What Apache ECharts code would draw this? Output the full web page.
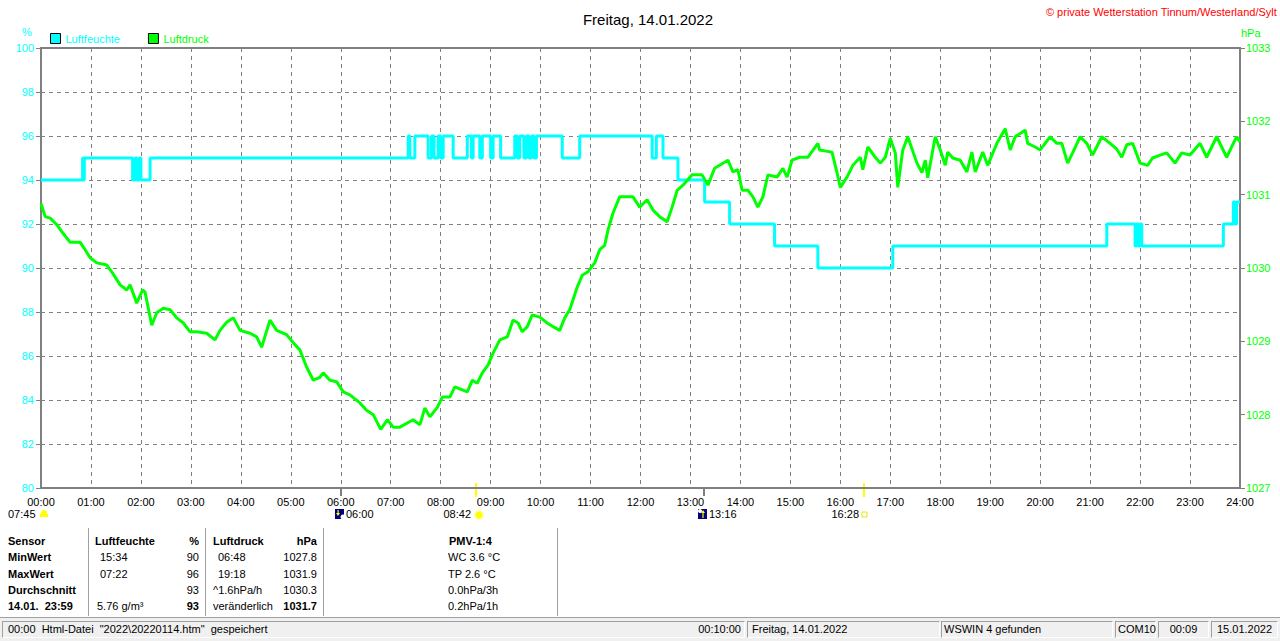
<!DOCTYPE html>
<html>
<head>
<meta charset="utf-8">
<script src="https://cdn.jsdelivr.net/npm/echarts@6/dist/echarts.min.js"></script>
<style>
  html, body { margin:0; padding:0; background:#fff; }
  body { width:1280px; height:641px; position:relative; overflow:hidden; font-family:"Liberation Sans", Arial, sans-serif; font-size:11px; }
  #c { position:absolute; left:0; top:0; width:1280px; height:641px; }
  .t { position:absolute; white-space:nowrap; font-size:11px; line-height:13px; color:#000; }
  .b { font-weight:bold; }
  .r { text-align:right; }
  .vl { position:absolute; top:528px; width:1px; height:88px; background:#a0a0a0; border-right:1px solid #fff; }
  #sb { position:absolute; left:0; top:617px; width:1280px; height:24px; background:#f0f0f0; border-top:1px solid #a0a0a0; }
  .p { position:absolute; top:3px; height:17px; border-top:1px solid #a0a0a0; border-left:1px solid #a0a0a0; border-bottom:1px solid #fff; border-right:1px solid #fff; box-sizing:border-box; font-size:11px; line-height:15px; white-space:nowrap; color:#000; }
</style>
</head>
<body>
<div id="c"></div>

<div class="t b" style="left:8px;top:535px">Sensor</div>
<div class="t b" style="left:8px;top:551px">MinWert</div>
<div class="t b" style="left:8px;top:568px">MaxWert</div>
<div class="t b" style="left:8px;top:584px">Durchschnitt</div>
<div class="t b" style="left:8px;top:600px">14.01.&nbsp;&nbsp;23:59</div>
<div class="vl" style="left:88px"></div>

<div class="t b" style="left:95px;top:535px">Luftfeuchte</div>
<div class="t b r" style="left:160px;width:39px;top:535px">%</div>
<div class="t" style="left:100px;top:551px">15:34</div>
<div class="t r" style="left:160px;width:39px;top:551px">90</div>
<div class="t" style="left:100px;top:568px">07:22</div>
<div class="t r" style="left:160px;width:39px;top:568px">96</div>
<div class="t r" style="left:160px;width:39px;top:584px">93</div>
<div class="t" style="left:97px;top:600px">5.76 g/m³</div>
<div class="t b r" style="left:160px;width:39px;top:600px">93</div>
<div class="vl" style="left:205px"></div>

<div class="t b" style="left:213px;top:535px">Luftdruck</div>
<div class="t b r" style="left:262px;width:55px;top:535px">hPa</div>
<div class="t" style="left:218px;top:551px">06:48</div>
<div class="t r" style="left:262px;width:55px;top:551px">1027.8</div>
<div class="t" style="left:218px;top:568px">19:18</div>
<div class="t r" style="left:262px;width:55px;top:568px">1031.9</div>
<div class="t" style="left:213px;top:584px">^1.6hPa/h</div>
<div class="t r" style="left:262px;width:55px;top:584px">1030.3</div>
<div class="t" style="left:213px;top:600px">veränderlich</div>
<div class="t b r" style="left:262px;width:55px;top:600px">1031.7</div>
<div class="vl" style="left:323px"></div>

<div class="t b" style="left:449px;top:535px">PMV-1:4</div>
<div class="t" style="left:448px;top:551px">WC 3.6 °C</div>
<div class="t" style="left:448px;top:568px">TP 2.6 °C</div>
<div class="t" style="left:448px;top:584px">0.0hPa/3h</div>
<div class="t" style="left:448px;top:600px">0.2hPa/1h</div>
<div class="vl" style="left:557px"></div>

<div id="sb">
  <div class="p" style="left:2px;width:743px;padding-left:5px">00:00&nbsp;&nbsp;Html-Datei&nbsp;&nbsp;"2022\20220114.htm"&nbsp;&nbsp;gespeichert<span style="position:absolute;right:3px;top:0">00:10:00</span></div>
  <div class="p" style="left:747px;width:193px;padding-left:4px">Freitag, 14.01.2022</div>
  <div class="p" style="left:941px;width:172px;padding-left:2px">WSWIN 4 gefunden</div>
  <div class="p" style="left:1115px;width:41px;padding-left:2px">COM10</div>
  <div class="p" style="left:1158px;width:51px;text-align:center">00:09</div>
  <div class="p" style="left:1211px;width:67px;text-align:center">15.01.2022</div>
</div>

<script>
// ---- data (time in minutes since 00:00) ----
const humTimes = [0,50,51,52,110,113,115,118,120,131,441,443,449,465,469,472,477,480,483,495,512,517,519,527,530,540,543,552,569,572,575,580,583,586,589,592,595,626,647,734,739,747,765,797,827,881,933,1023,1280,1314,1316,1318,1320,1322,1420,1432,1434,1436,1440];
const humValues = [94,95,94,95,94,95,94,95,94,95,96,95,96,95,96,95,96,95,96,95,96,95,96,95,96,95,96,95,96,95,96,95,96,95,96,95,96,95,96,95,96,95,94,93,92,91,90,91,92,91,92,91,92,91,92,93,92,93,93];

const presTimes = [0,5,11,19,26,35,47,53,59,67,79,86,95,103,107,115,122,125,133,139,147,155,163,171,179,187,199,209,215,223,231,239,251,259,265,275,283,295,303,311,319,327,335,339,347,355,363,371,383,391,399,408,416,423,431,447,455,461,467,476,482,491,497,512,518,524,530,537,543,551,560,567,573,578,584,590,599,608,615,623,629,635,644,650,657,665,671,677,681,687,695,711,719,728,735,743,752,758,764,771,782,794,801,809,825,831,837,842,849,855,861,867,873,884,891,896,902,911,921,933,935,950,956,960,968,975,984,987,993,1002,1008,1014,1020,1026,1029,1035,1041,1052,1058,1062,1065,1074,1080,1086,1089,1095,1104,1112,1118,1122,1131,1137,1148,1158,1164,1170,1182,1185,1194,1200,1212,1220,1226,1233,1239,1248,1256,1263,1274,1284,1292,1298,1304,1311,1320,1329,1335,1344,1352,1362,1370,1380,1392,1400,1412,1418,1424,1432,1436,1440];
const presValues = [1030.88,1030.70,1030.68,1030.59,1030.48,1030.35,1030.35,1030.25,1030.14,1030.07,1030.04,1029.93,1029.77,1029.70,1029.77,1029.52,1029.70,1029.67,1029.22,1029.39,1029.45,1029.43,1029.32,1029.25,1029.13,1029.13,1029.11,1029.02,1029.15,1029.26,1029.32,1029.15,1029.11,1029.06,1028.92,1029.29,1029.15,1029.09,1028.98,1028.88,1028.65,1028.47,1028.51,1028.57,1028.47,1028.45,1028.31,1028.27,1028.16,1028.06,1028.00,1027.80,1027.93,1027.83,1027.83,1027.93,1027.86,1028.09,1027.97,1028.10,1028.24,1028.24,1028.38,1028.31,1028.47,1028.43,1028.57,1028.68,1028.84,1029.02,1029.06,1029.29,1029.25,1029.13,1029.20,1029.36,1029.33,1029.25,1029.20,1029.15,1029.32,1029.43,1029.74,1029.90,1029.95,1030.07,1030.25,1030.31,1030.52,1030.75,1030.97,1030.97,1030.83,1030.93,1030.79,1030.70,1030.63,1030.83,1031.06,1031.13,1031.27,1031.27,1031.13,1031.36,1031.47,1031.31,1031.34,1031.06,1031.06,1030.97,1030.83,1030.97,1031.27,1031.24,1031.36,1031.24,1031.47,1031.51,1031.51,1031.70,1031.61,1031.58,1031.30,1031.10,1031.24,1031.40,1031.51,1031.34,1031.65,1031.51,1031.43,1031.51,1031.77,1031.57,1031.10,1031.61,1031.79,1031.43,1031.30,1031.47,1031.23,1031.79,1031.61,1031.40,1031.58,1031.50,1031.47,1031.31,1031.58,1031.31,1031.58,1031.40,1031.70,1031.90,1031.61,1031.79,1031.88,1031.70,1031.65,1031.61,1031.79,1031.70,1031.70,1031.43,1031.57,1031.79,1031.70,1031.54,1031.79,1031.70,1031.62,1031.51,1031.68,1031.70,1031.43,1031.40,1031.50,1031.54,1031.57,1031.43,1031.57,1031.54,1031.70,1031.51,1031.79,1031.65,1031.51,1031.70,1031.79,1031.72];

const sunEvents = [ // sunrise / sunset
  {time:'08:42', kind:'sunrise'},
  {time:'16:28', kind:'sunset'}
];
const moonEvents = [
  {time:'06:00', kind:'moonset'},
  {time:'13:16', kind:'moonrise'}
];

const CYAN = '#00ffff', GREEN = '#00ff00', GRAY = '#808080';
const FONT = '"Liberation Sans", Arial, sans-serif';

function hm(m){ const h=Math.floor(m/60), mi=Math.round(m%60); return (h<10?'0':'')+h+':'+(mi<10?'0':'')+mi; }
function toMin(s){ const p=s.split(':'); return (+p[0])*60 + (+p[1]); }

const humData = humTimes.map((t,i)=>[t, humValues[i]]);
const presData = presTimes.map((t,i)=>[t, presValues[i]]);

const chart = echarts.init(document.getElementById('c'), null, {renderer:'svg'});

const option = {
  backgroundColor:'#fff',
  animation:false,
  textStyle:{fontFamily:FONT},
  title:{
    text:'Freitag, 14.01.2022', left:643, top:7, textAlign:'center',
    textStyle:{fontSize:15, fontWeight:'normal', color:'#000', fontFamily:FONT}
  },
  legend:{
    left:50, top:33, padding:0, itemWidth:10, itemHeight:10, itemGap:28, icon:'rect',
    itemStyle:{borderColor:'#000', borderWidth:1},
    textStyle:{fontSize:11, fontFamily:FONT},
    data:[
      {name:'Luftfeuchte', textStyle:{color:CYAN}},
      {name:'Luftdruck', textStyle:{color:GREEN}}
    ]
  },
  grid:{left:41, right:40, top:48, bottom:153, show:true, borderColor:GRAY, borderWidth:2},
  xAxis:{
    type:'value', min:0, max:1440, interval:60,
    axisLine:{show:true, lineStyle:{color:GRAY, width:2}},
    axisTick:{show:false},
    axisLabel:{formatter:v=>hm(v), color:'#000', fontSize:11, margin:8, fontFamily:FONT},
    splitLine:{show:true, lineStyle:{color:GRAY, type:[4,4], width:1}}
  },
  yAxis:[
    {
      type:'value', min:80, max:100, interval:2, position:'left',
      axisLine:{show:true, lineStyle:{color:GRAY, width:2}},
      axisTick:{show:true, length:5, lineStyle:{color:GRAY}},
      axisLabel:{color:CYAN, fontSize:11, margin:7, fontFamily:FONT, formatter:v=>String(v)},
      splitLine:{show:true, lineStyle:{color:GRAY, type:[4,4], width:1}}
    },
    {
      type:'value', min:1027, max:1033, interval:1, position:'right',
      axisLine:{show:true, lineStyle:{color:GRAY, width:2}},
      axisTick:{show:true, length:5, lineStyle:{color:GRAY}},
      axisLabel:{color:GREEN, fontSize:11, margin:6, fontFamily:FONT, formatter:v=>String(v)},
      splitLine:{show:false}
    }
  ],
  series:[
    {
      name:'Luftfeuchte', type:'line', yAxisIndex:0, step:'end', showSymbol:false,
      data:humData, lineStyle:{color:CYAN, width:3}, itemStyle:{color:CYAN}, z:2
    },
    {
      name:'Luftdruck', type:'line', yAxisIndex:1, showSymbol:false,
      data:presData, lineStyle:{color:GREEN, width:3}, itemStyle:{color:GREEN}, z:3
    }
  ]
};
chart.setOption(option);

// ---- decorations placed through the axis scale ----
const yAxisPix = chart.convertToPixel({yAxisIndex:0}, 80);
const g = [];
g.push({type:'text', left:22, top:26, style:{text:'%', fill:CYAN, font:'11px '+FONT}});
g.push({type:'text', left:1241, top:27, style:{text:'hPa', fill:GREEN, font:'11px '+FONT}});
g.push({type:'text', right:3, top:6, style:{text:'© private Wetterstation Tinnum/Westerland/Sylt', fill:'#ff0000', font:'11px '+FONT}});

// 07:45 label (dawn) with small yellow cloud at left
g.push({type:'text', x:8, y:508, style:{text:'07:45', fill:'#000', font:'11px '+FONT}});
g.push({type:'rect', shape:{x:40, y:514, width:8, height:3}, style:{fill:'#ffff00'}});
g.push({type:'circle', shape:{cx:44, cy:513, r:3}, style:{fill:'#ffff00'}});

sunEvents.forEach(ev=>{
  const x = Math.round(chart.convertToPixel({xAxisIndex:0}, toMin(ev.time)));
  g.push({type:'line', shape:{x1:x, y1:yAxisPix-5, x2:x, y2:yAxisPix+9}, style:{stroke:'#ffff00', lineWidth:2}});
  g.push({type:'text', x:x-5, y:508, style:{text:ev.time, fill:'#000', font:'11px '+FONT, align:'right'}});
  if (ev.kind==='sunrise'){
    g.push({type:'circle', shape:{cx:x+3, cy:515, r:5}, style:{fill:'#ffffa0'}});
    g.push({type:'circle', shape:{cx:x+3, cy:515, r:3.5}, style:{fill:'#ffff00'}});
  } else {
    g.push({type:'rect', shape:{x:x-2, y:512, width:5, height:5}, style:{fill:'#ffffff', stroke:'#e8e800', lineWidth:1}, z:10});
  }
});
moonEvents.forEach(ev=>{
  const x = Math.round(chart.convertToPixel({xAxisIndex:0}, toMin(ev.time)));
  g.push({type:'line', shape:{x1:x, y1:yAxisPix, x2:x, y2:yAxisPix+8}, style:{stroke:GRAY, lineWidth:2}});
  const ix = x-6;
  g.push({type:'rect', shape:{x:ix, y:509, width:9, height:10}, style:{fill:'#000080'}});
  if (ev.kind==='moonset'){
    g.push({type:'polygon', shape:{points:[[ix+1,513],[ix+5,513],[ix+3,516]]}, style:{fill:'#ffff00'}});
    g.push({type:'rect', shape:{x:ix+2.5, y:510, width:1.2, height:3}, style:{fill:'#ffff00'}});
    g.push({type:'circle', shape:{cx:ix+8, cy:517, r:2.5}, style:{fill:'#ffffff'}});
  } else {
    g.push({type:'polygon', shape:{points:[[ix+3,513],[ix+7,513],[ix+5,510]]}, style:{fill:'#ffff00'}});
    g.push({type:'rect', shape:{x:ix+4.4, y:513, width:1.2, height:5}, style:{fill:'#ffff00'}});
    g.push({type:'circle', shape:{cx:ix+2, cy:511, r:2}, style:{fill:'#ffffff'}});
  }
  g.push({type:'text', x:x+5, y:508, style:{text:ev.time, fill:'#000', font:'11px '+FONT}});
});
chart.setOption({graphic:g});
</script>
</body>
</html>
